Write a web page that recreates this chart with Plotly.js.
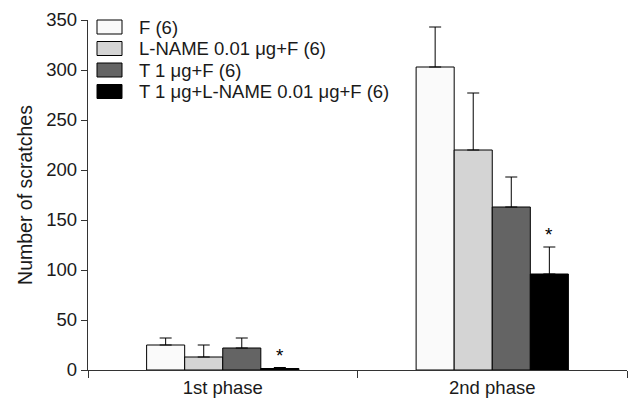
<!DOCTYPE html>
<html>
<head>
<meta charset="utf-8">
<script src="https://cdn.plot.ly/plotly-3.0.1.min.js"></script>
<style>html,body{margin:0;padding:0;background:#fff;}#chart{width:629px;height:403px;}</style>
</head>
<body>
<div id="chart"></div>
<script>
const phases = ["1st phase", "2nd phase"];
const seriesNames = ["F (6)", "L-NAME 0.01 μg+F (6)", "T 1 μg+F (6)", "T 1 μg+L-NAME 0.01 μg+F (6)"];
const seriesColors = ["#fafafa", "#d4d4d4", "#646464", "#000000"];
const meanF = [25, 303];
const meanLNAME = [13, 220];
const meanT = [22, 163];
const meanTLNAME = [1.5, 96];
const semF = [7, 40];
const semLNAME = [12, 57];
const semT = [10, 30];
const semTLNAME = [1, 27];
const significant = [true, true]; // T+L-NAME group marked with *

const means = [meanF, meanLNAME, meanT, meanTLNAME];
const sems = [semF, semLNAME, semT, semTLNAME];

const font = "Liberation Sans, Arial, sans-serif";
const fs = 18.5;
const W = 629, H = 403;
const M = {l: 88, r: 2, t: 20, b: 33};
const plotW = W - M.l - M.r, plotH = H - M.t - M.b;
// helpers converting pixel positions (for the legend only) into paper coordinates
const px = x => (x - M.l) / plotW;
const py = y => (H - M.b - y) / plotH;

const traces = seriesNames.map((name, i) => ({
  type: "bar",
  name: name,
  x: phases,
  y: means[i],
  marker: {color: seriesColors[i], line: {color: "#000", width: 1}},
  error_y: {type: "data", symmetric: false, array: sems[i], arrayminus: phases.map(() => 0),
            color: "#000", thickness: 1, width: 6},
  hoverinfo: "none",
  showlegend: false
}));

const annotations = phases.map((p, j) => significant[j] ? {
  x: p, y: meanTLNAME[j] + semTLNAME[j], xref: "x", yref: "y",
  text: "*", showarrow: false, xshift: 57, yanchor: "bottom", yshift: 0,
  font: {family: font, size: 19, color: "#000"}
} : null).filter(Boolean);

// Legend built from series names/colours
const legendRowY = [27, 48.5, 70, 91.5];
const shapes = [];
seriesNames.forEach((name, i) => {
  const cy = legendRowY[i];
  shapes.push({type: "rect", xref: "paper", yref: "paper",
    x0: px(97), x1: px(122), y0: py(cy + 7), y1: py(cy - 7),
    fillcolor: seriesColors[i], line: {color: "#000", width: 1}});
  annotations.push({xref: "paper", yref: "paper", x: px(137), y: py(cy),
    xanchor: "left", yanchor: "middle", showarrow: false, text: name,
    font: {family: font, size: fs, color: "#1a1a1a"}});
});

const layout = {
  width: W, height: H,
  margin: M,
  paper_bgcolor: "#fff", plot_bgcolor: "#fff",
  font: {family: font, size: fs, color: "#1a1a1a"},
  barmode: "group", bargap: 0.435, bargroupgap: 0,
  showlegend: false,
  xaxis: {
    type: "category", range: [-0.5, 1.5], tickson: "boundaries", ticks: "outside", ticklen: 7,
    tickcolor: "#333", showline: true, linecolor: "#333", linewidth: 1.3, showgrid: false,
    zeroline: false, tickfont: {family: font, size: fs, color: "#1a1a1a"}, fixedrange: true
  },
  yaxis: {
    range: [0, 350], dtick: 50, tick0: 0, ticks: "outside", ticklen: 6, tickcolor: "#333",
    showline: true, linecolor: "#333", linewidth: 1.3, showgrid: false, zeroline: false,
    tickfont: {family: font, size: fs, color: "#1a1a1a"},
    title: {text: "Number of scratches", font: {family: font, size: 19.5, color: "#1a1a1a"}, standoff: 8},
    automargin: false, fixedrange: true
  },
  shapes: shapes,
  annotations: annotations
};

Plotly.newPlot("chart", traces, layout, {staticPlot: true, displayModeBar: false});
</script>
</body>
</html>
